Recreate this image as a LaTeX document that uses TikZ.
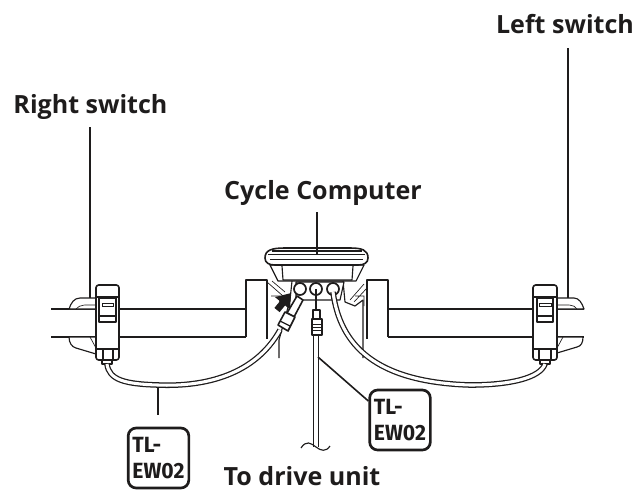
\documentclass[tikz,border=0pt]{standalone}
\usepackage{fontspec}
\setmainfont{Open Sans}
\newfontfamily\toolfont[FakeStretch=0.96]{Fira Sans}
\usetikzlibrary{arrows.meta,positioning}
\definecolor{inkK}{RGB}{30,28,28}

\begin{document}
\begin{tikzpicture}[
  x=0.75pt, y=-0.75pt,
  ln/.style={draw=inkK, line width=0.85pt, line join=round},
  thn/.style={draw=inkK, line width=0.5pt},
  body/.style={draw=inkK, line width=1.2pt, fill=white, line join=round},
  lead/.style={draw=inkK, line width=1.2pt},
  cbl/.style={draw=inkK, line width=0.95pt, double=white, double distance=2.3pt},
  lbl/.style={font=\fontsize{18.8}{22}\selectfont\bfseries, text=inkK, inner sep=0pt, anchor=base},
  tool/.style={draw=inkK, line width=2pt, rounded corners=6pt, minimum width=45.5pt,
               minimum height=45pt, inner sep=0pt, align=left, text=inkK, fill=white,
               font=\fontsize{16.5}{20}\selectfont\toolfont\bfseries},
  port/.style={circle, draw=inkK, line width=1.3pt, minimum size=9pt, inner sep=0pt, fill=white},
]
\useasboundingbox (0,0) rectangle (634,490);

% ============ handlebar ============
\draw[ln] (51,309)--(246,309) (51,337)--(246,337);
\draw[ln] (388,309)--(584,309) (388,337)--(584,337);

% ============ stem clamps ============
\draw[ln] (246,337)--(246,280)--(267,280)--(267,339);
\draw[ln] (388,337)--(388,280)--(367,280)--(367,339);

% ============ cycle computer ============
\draw[ln,fill=white] (270,265)--(278,281)--(356,281)--(364,265)--cycle;
\draw[body] (265,258) .. controls (265,250) and (272,248) .. (285,248)
  -- (350,248) .. controls (362,248) and (368,250) .. (368,258)
  .. controls (368,263) and (364,265) .. (358,265) -- (275,265)
  .. controls (269,265) and (265,263) .. (265,258) -- cycle;
\draw[ln] (272,251) -- (362,251);
\draw[thn] (268,254)--(365,254) (270,259)--(363,259);
\draw[ln] (282,266)--(283,280)--(352,280)--(353,266);
\draw[ln] (292,281)--(290,300)--(279,340)--(279,358);
\draw[ln] (343,281)--(345,302)--(355,306)--(363,300)--(363,358);
\draw[ln,fill=white] (296,282)--(296,300)--(340,300)--(344,282)--cycle;
\draw[thn] (267,282)--(283,296) (272,281)--(285,292) (271,296)--(280,296)--(279,310);
\draw[thn] (350,300)--(364,284) (354,302)--(367,288) (355,296)--(364,296)--(364,306);
\node[port] (portL) at (300,289) {};
\node[port] (portM) at (316,289) {};
\node[port] (portR) at (333,289) {};

% ============ right switch ============
\draw[ln,fill=white] (96,298)--(80,298) .. controls (74,298) and (71,303) .. (69,309)--(95,309);
\draw[ln,fill=white] (69,337) .. controls (69,343) and (72,347) .. (76,348)--(96,354)--(96,337)--cycle;
\draw[thn] (76,309) .. controls (80,304) and (86,305) .. (96,305);
\draw[thn] (90,337)--(96,348);
\draw[body,rounded corners=2pt] (96,285) rectangle (119,360);
\draw[ln] (96,297)--(119,297) (97,349)--(118,349);
\draw[ln] (99,298) rectangle (116,322);
\draw[ln] (99,316)--(116,316) (103,349)--(103,360) (113,349)--(113,360);
\draw[thn] (102,303) rectangle (113,306);
\draw[ln,fill=white] (102,360) rectangle (112,364);

% ============ left switch ============
\draw[ln,fill=white] (557,298)--(574,298) .. controls (579,298) and (582,303) .. (584,309)--(558,309);
\draw[ln,fill=white] (583,337) .. controls (583,343) and (581,346) .. (577,347)--(557,353)--(557,337)--cycle;
\draw[thn] (577,309) .. controls (574,304) and (568,305) .. (557,305);
\draw[thn] (563,337)--(557,348);
\draw[body,rounded corners=2pt] (533,285) rectangle (557,360);
\draw[ln] (533,297)--(557,297) (534,349)--(556,349);
\draw[ln] (537,298) rectangle (553,322);
\draw[ln] (537,316)--(553,316) (539,349)--(539,360) (551,349)--(551,360);
\draw[thn] (539,303) rectangle (551,306);
\draw[ln,fill=white] (540,360) rectangle (550,364);

% ============ cables ============
\draw[cbl] (107,364) .. controls (109,380) and (125,384) .. (158,385)
  .. controls (205,387) and (255,375) .. (280,330);
\draw[cbl] (333,292) .. controls (340,345) and (375,382) .. (470,385)
  .. controls (510,385) and (540,378) .. (545,364);
\draw[cbl] (316,336)--(316,447);

% ============ plugs ============
\draw[lead] (299,296)--(portL);
\draw[body] (287,313)--(297,296)--(303,300)--(294,317)--cycle;
\draw[body] (278,325)--(285,312)--(295,317)--(288,331)--cycle;
\draw[ln] (280,321)--(290,326);
\draw[lead] (portM.center)--(316,312);
\draw[body] (313,310) rectangle (320,319);
\draw[body] (312,319) rectangle (322,335);
\draw[thn] (312,324)--(322,324) (312,327)--(322,327) (312,330)--(322,330);

% ============ arrow ============
\draw[-{Triangle[length=10pt,width=14pt]}, draw=inkK, fill=inkK, line width=5pt]
  (277,310)--(291,293);

% cable break
\draw[ln] (301,448) .. controls (306,440) and (311,443) .. (316,447)
  .. controls (321,451) and (326,452) .. (330,446);

% ============ labels ============
\node[lbl] (rsw) at (90.5,113) {Right switch};
\node[lbl] (lsw) at (565,33) {Left switch};
\node[lbl] (cyc) at (323,199) {Cycle Computer};
\node[lbl] (drv) at (302,485) {To drive unit};
\node[tool] (toolA) at (158.5,458) {TL-\\EW02};
\node[tool] (toolB) at (400,420) {TL-\\EW02};

% leaders
\coordinate (rswEnd) at (90,298);
\coordinate (lswEnd) at (568,298);
\coordinate (cycEnd) at (317,254);
\coordinate (cblA) at (158,387);
\coordinate (cblB) at (318,357);
\draw[lead] (rsw.base -| rswEnd) ++(0,14) -- (rswEnd);
\draw[lead] (lsw.base -| lswEnd) ++(0,15) -- (lswEnd);
\draw[lead] (cyc.base -| cycEnd) ++(0,13) -- (cycEnd);
\draw[lead] (cblA)--(158,415);
\draw[lead] (cblB)--(toolB.west |- 0,401);

\end{tikzpicture}
\end{document}
